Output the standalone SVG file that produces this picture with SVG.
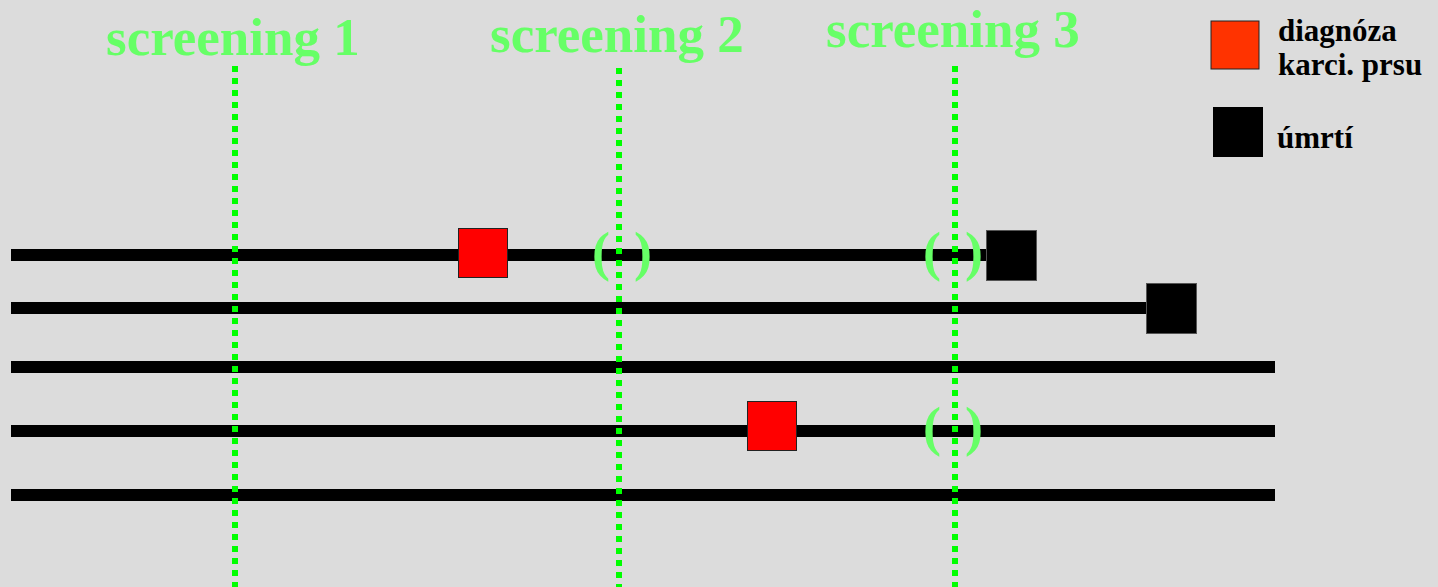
<svg xmlns="http://www.w3.org/2000/svg" width="1438" height="587" viewBox="0 0 1438 587">
<style>
.bg{fill:#dcdcdc}
.title{font-family:"Liberation Serif","Times New Roman",serif;font-weight:bold;font-size:53px;fill:#66ff66}
.paren{font-family:"Liberation Serif","Times New Roman",serif;font-weight:bold;font-size:54px;fill:#66ff66;text-anchor:middle}
.leg{font-family:"Liberation Serif","Times New Roman",serif;font-weight:bold;font-size:31px;fill:#000}
.life{fill:#000}
.scr{stroke:#00ff00;stroke-width:6;stroke-dasharray:6 6;fill:none}
.dx{fill:#ff0000;stroke:#222;stroke-width:1}
.death{fill:#000;stroke:#555;stroke-width:1}
</style>
<rect class="bg" x="0" y="0" width="1438" height="587"/>
<g id="titles">
<text class="title" x="106" y="55">screening 1</text>
<text class="title" x="490" y="52">screening 2</text>
<text class="title" x="826" y="47">screening 3</text>
</g>
<g id="legend">
<rect x="1211" y="21" width="48" height="48" fill="#ff3300" stroke="#222" stroke-width="1"/>
<text class="leg" x="1278" y="41">diagnóza</text>
<text class="leg" x="1278" y="75">karci. prsu</text>
<rect x="1213" y="107" width="50" height="50" fill="#000"/>
<text class="leg" x="1277" y="148">úmrtí</text>
</g>
<g id="connectors">
<rect class="life" x="11" y="249" width="975" height="12"/>
<rect class="life" x="11" y="302" width="1135" height="12"/>
<rect class="life" x="11" y="361" width="1264" height="12"/>
<rect class="life" x="11" y="425" width="1264" height="12"/>
<rect class="life" x="11" y="489" width="1264" height="12"/>
<line class="scr" x1="235" y1="66" x2="235" y2="590"/>
<line class="scr" x1="619" y1="68" x2="619" y2="590"/>
<line class="scr" x1="955" y1="66" x2="955" y2="590"/>
</g>
<g id="dx1"><rect class="dx" x="458.5" y="228.5" width="49" height="49"/></g>
<g id="dx2"><rect class="dx" x="747.5" y="401.5" width="49" height="49"/></g>
<g id="death1"><rect class="death" x="986.5" y="230.5" width="50" height="50"/></g>
<g id="death2"><rect class="death" x="1146.5" y="283.5" width="50" height="50"/></g>
<g id="p1"><text class="paren"><tspan x="601" y="270">(</tspan><tspan x="643" y="270">)</tspan></text></g>
<g id="p2"><text class="paren"><tspan x="932" y="270">(</tspan><tspan x="974" y="270">)</tspan></text></g>
<g id="p3"><text class="paren"><tspan x="932" y="445">(</tspan><tspan x="974" y="445">)</tspan></text></g>
</svg>
